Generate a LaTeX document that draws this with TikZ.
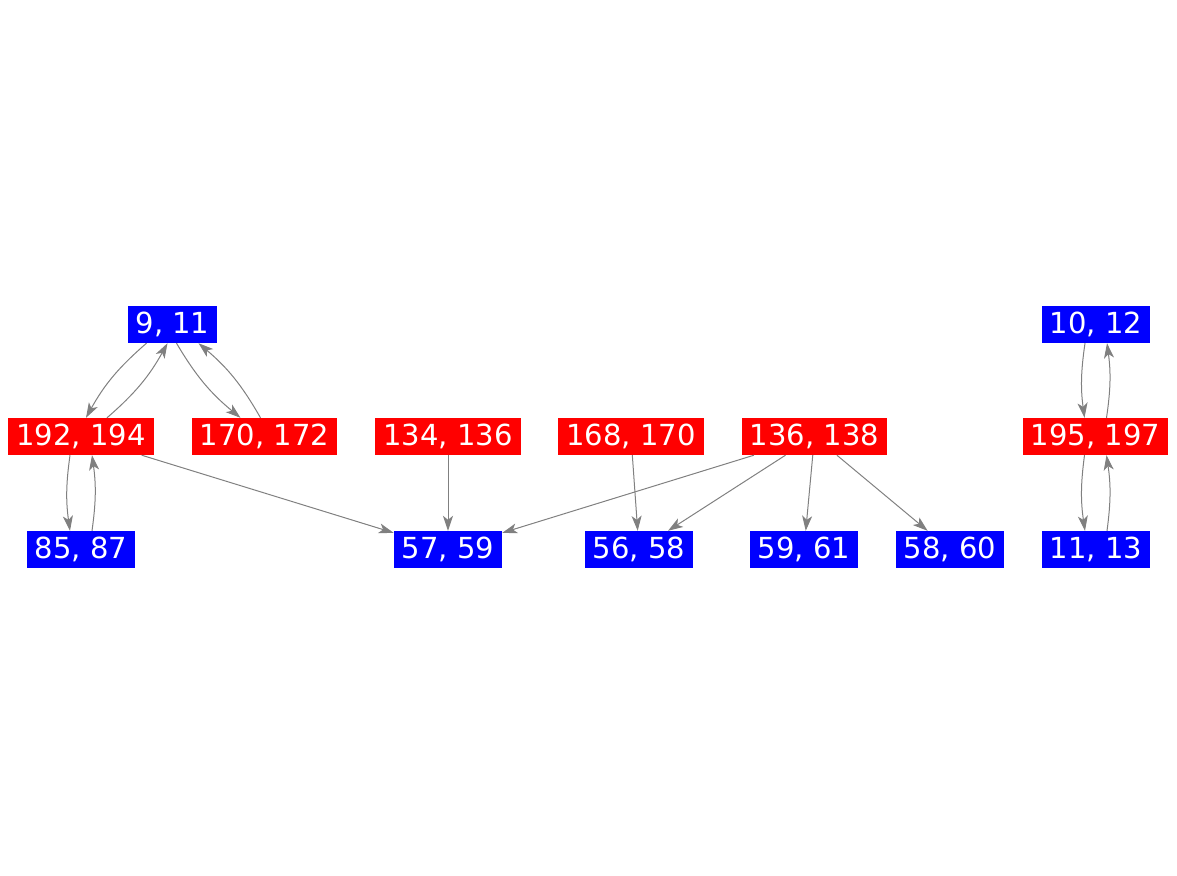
\documentclass[tikz,border=0pt]{standalone}
\usepackage{fontspec}
\setmainfont{DejaVu Sans}
\usepackage{xcolor}
\usepackage{tikz}
\usetikzlibrary{arrows.meta}

\tikzset{
  pair/.style={text=white, inner xsep=8pt, inner ysep=0pt, minimum height=37pt,
    font=\fontsize{29}{35}\selectfont},
  redpair/.style={pair, fill=red},
  bluepair/.style={pair, fill=blue},
  link/.style={draw=gray, line width=1pt, -{Stealth[length=15pt,width=10pt,inset=4pt]}}
}

\begin{document}
\begin{tikzpicture}[x=1pt,y=1pt]
  \useasboundingbox (0,0) rectangle (1177,-875);
  % upper row
  \node[bluepair] (n911) at (172.5,-324.5) {9, 11};
  \node[bluepair] (n1012) at (1096,-324.5) {10, 12};
  % middle row
  \node[redpair] (n192) at (81,-436.5) {192, 194};
  \node[redpair] (n170) at (264.5,-436.5) {170, 172};
  \node[redpair] (n134) at (448,-436.5) {134, 136};
  \node[redpair] (n168) at (631,-436.5) {168, 170};
  \node[redpair] (n136) at (814.5,-436.5) {136, 138};
  \node[redpair] (n195) at (1095.5,-436.5) {195, 197};
  % lower row
  \node[bluepair] (n8587) at (81,-549.5) {85, 87};
  \node[bluepair] (n5759) at (448,-549.5) {57, 59};
  \node[bluepair] (n5658) at (639,-549.5) {56, 58};
  \node[bluepair] (n5961) at (804,-549.5) {59, 61};
  \node[bluepair] (n5860) at (950,-549.5) {58, 60};
  \node[bluepair] (n1113) at (1096,-549.5) {11, 13};
  % two-way links
  \draw[link] ([xshift=-26pt]n911.south) to[bend right=10] ([xshift=5pt]n192.north);
  \draw[link] ([xshift=26pt]n192.north) to[bend right=10] ([xshift=-5pt]n911.south);
  \draw[link] ([xshift=4pt]n911.south) to[bend right=10] ([xshift=-24pt]n170.north);
  \draw[link] ([xshift=-4pt]n170.north) to[bend right=10] ([xshift=26pt]n911.south);
  \draw[link] ([xshift=-11pt]n192.south) to[bend right=8] ([xshift=-11pt]n8587.north);
  \draw[link] ([xshift=11pt]n8587.north) to[bend right=8] ([xshift=11pt]n192.south);
  \draw[link] ([xshift=-11pt]n1012.south) to[bend right=8] ([xshift=-11pt]n195.north);
  \draw[link] ([xshift=11pt]n195.north) to[bend right=8] ([xshift=11pt]n1012.south);
  \draw[link] ([xshift=-11pt]n195.south) to[bend right=8] ([xshift=-11pt]n1113.north);
  \draw[link] ([xshift=11pt]n1113.north) to[bend right=8] ([xshift=11pt]n195.south);
  % one-way links
  \draw[link] (n192) -- (n5759);
  \draw[link] (n134) -- (n5759);
  \draw[link] (n136) -- (n5759);
  \draw[link] (n168) -- (n5658);
  \draw[link] (n136) -- (n5658);
  \draw[link] (n136) -- (n5961);
  \draw[link] (n136) -- (n5860);
\end{tikzpicture}
\end{document}
